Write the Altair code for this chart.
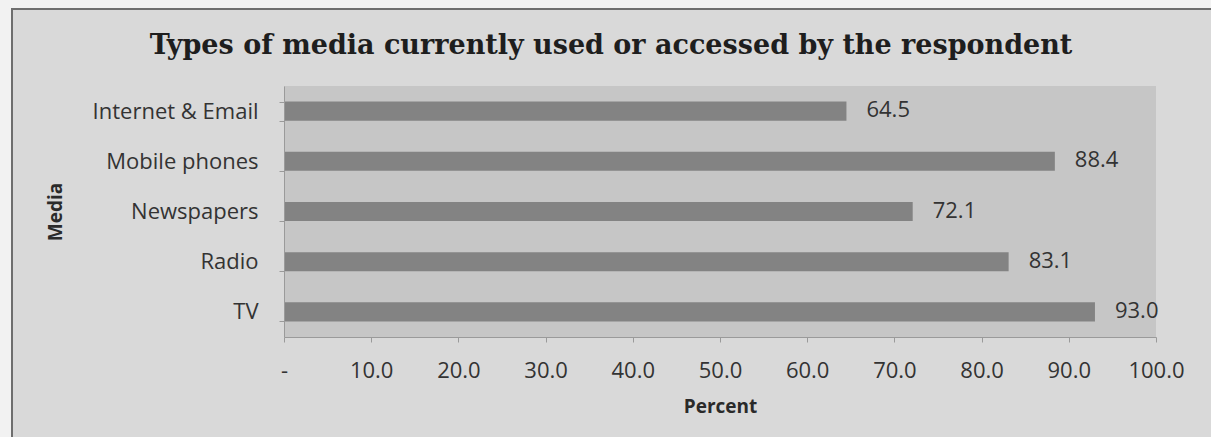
import altair as alt
import pandas as pd

categories = ["Internet & Email", "Mobile phones", "Newspapers", "Radio", "TV"]
percents = [64.5, 88.4, 72.1, 83.1, 93.0]
x_ticks = [0, 10, 20, 30, 40, 50, 60, 70, 80, 90, 100]
title_text = "Types of media currently used or accessed by the respondent"

df = pd.DataFrame({"Media": categories, "Percent": percents})

W, H = 872, 251
PL, PT = 284, 86
FONT = "Open Sans"

one = pd.DataFrame({"a": [0]})

frame = alt.Chart(one).mark_rect(
    fill="#d9d9d9", stroke="#6e6e6e", strokeWidth=2
).encode(
    x=alt.value(12 - PL), x2=alt.value(1211 - PL + 10),
    y=alt.value(9 - PT), y2=alt.value(437 - PT + 10),
)

plotbg = alt.Chart(one).mark_rect(fill="#c6c6c6").encode(
    x=alt.value(0), x2=alt.value(W), y=alt.value(0), y2=alt.value(H)
)

title = alt.Chart(one).mark_text(
    text=title_text, font="DejaVu Serif", fontSize=27, fontWeight="bold",
    color="#1e1e1e", align="center", baseline="alphabetic",
).encode(x=alt.value(611 - PL), y=alt.value(54 - PT))

xenc = alt.X(
    "Percent:Q",
    scale=alt.Scale(domain=[0, 100], nice=False),
    axis=alt.Axis(
        title="Percent", values=x_ticks,
        labelExpr="datum.value == 0 ? '-' : format(datum.value, '.1f')",
        grid=False, tickSize=5, labelPadding=18, titlePadding=16,
        labelFlush=False, zindex=1,
    ),
)
yenc = alt.Y(
    "Media:N", sort=categories,
    scale=alt.Scale(paddingInner=0.62, paddingOuter=0.31),
    axis=alt.Axis(
        title="Media", tickBand="extent", tickSize=5, labelPadding=21,
        titlePadding=27, zindex=1,
    ),
)

bars = alt.Chart(df).mark_bar(color="#838383").encode(x=xenc, y=yenc)

labels = alt.Chart(df).mark_text(
    align="left", baseline="middle", dx=20, dy=-1, font=FONT, fontSize=22, color="#333333"
).encode(
    x="Percent:Q", y=alt.Y("Media:N", sort=categories),
    text=alt.Text("Percent:Q", format=".1f"),
)

chart = alt.layer(frame, plotbg, bars, labels, title).properties(
    width=W, height=H,
    autosize=alt.AutoSizeParams(type="none"),
    padding={"left": PL, "top": PT, "right": 1211 - PL - W, "bottom": 437 - PT - H},
).configure(background="#f2f2f2").configure_view(stroke=None).configure_axis(
    labelFont=FONT, labelFontSize=22, labelColor="#333333",
    titleFont=FONT, titleFontSize=19, titleFontWeight="bold", titleColor="#2a2a2a",
    domainColor="#9a9a9a", tickColor="#9a9a9a",
)

chart.save("out.html", embed_options={"renderer": "svg", "actions": False})
